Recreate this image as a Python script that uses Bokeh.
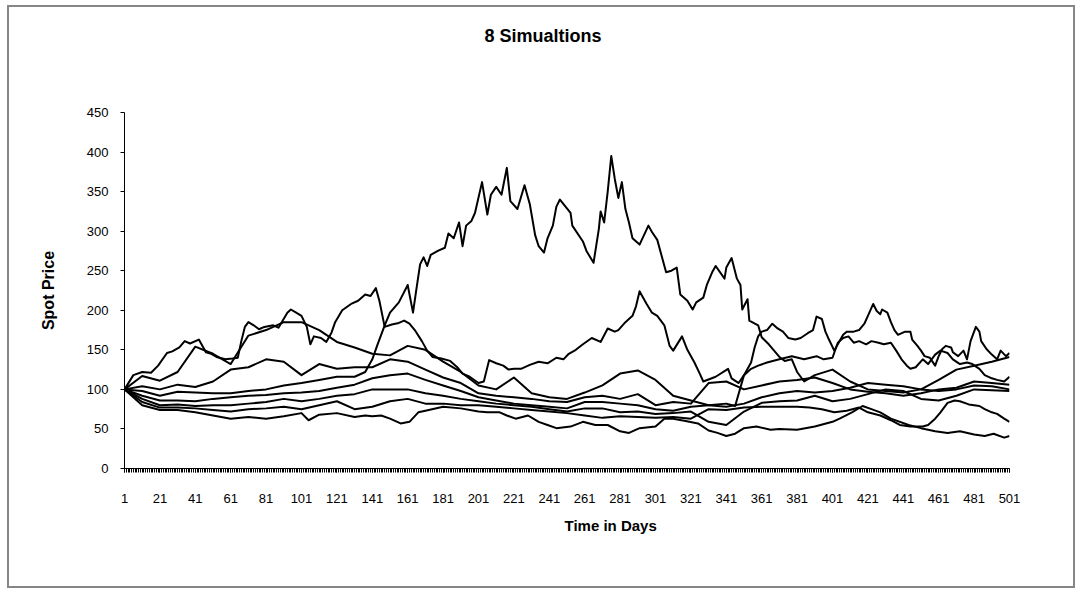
from bokeh.plotting import figure
from bokeh.models import Range1d, FixedTicker, Title
from bokeh.embed import file_html
from bokeh.resources import INLINE

# ---------------- data ----------------
grid_days = list(range(1, 502, 10))

# simulation 1: the path that climbs to ~395, read at its turning points (day, price)
sim1_points = [
    (1, 100), (11, 98), (21, 92), (31, 97), (41, 96), (51, 95), (61, 95), (71, 98), (81, 100), (91, 105),
    (101, 108), (111, 112), (121, 116), (131, 116), (137, 122), (141, 138), (144, 157), (148, 181), (151, 197), (156, 210),
    (161, 232), (164, 197), (166, 228), (168, 258), (170, 267), (172, 256), (174, 270), (178, 275), (182, 279), (184, 297),
    (187, 291), (190, 311), (192, 281), (194, 307), (197, 313), (199, 323), (203, 362), (206, 321), (208, 346), (211, 356),
    (214, 346), (217, 380), (219, 338), (223, 328), (227, 358), (230, 334), (233, 295), (235, 281), (238, 273), (240, 291),
    (243, 307), (245, 331), (247, 340), (253, 323), (254, 307), (260, 287), (262, 275), (266, 260), (269, 303), (270, 325),
    (272, 311), (274, 350), (276, 395), (278, 366), (280, 342), (282, 362), (284, 328), (286, 311), (288, 291), (292, 283),
    (297, 307), (299, 299), (302, 289), (307, 248), (310, 250), (313, 254), (315, 220), (319, 212), (322, 201), (324, 210),
    (328, 216), (330, 232), (333, 248), (335, 256), (340, 240), (341, 254), (344, 266), (347, 240), (349, 232), (350, 201),
    (353, 214), (354, 187), (359, 181), (361, 166), (365, 157), (368, 149), (371, 141), (374, 136), (378, 138), (381, 122),
    (385, 110), (391, 118), (401, 125), (411, 110), (421, 100), (431, 98), (441, 96), (451, 100), (461, 112), (471, 125),
    (481, 130), (491, 135), (501, 141)]

# simulation 2: early high path, later the one peaking ~225 near day 292 (day, price)
sim2_points = [
    (1, 100), (6, 118), (11, 122), (16, 121), (20, 130), (25, 146), (28, 148), (32, 153), (35, 161), (38, 158),
    (43, 163), (47, 147), (50, 145), (53, 141), (58, 138), (62, 139), (65, 140), (67, 161), (69, 179), (71, 185),
    (74, 181), (77, 176), (80, 179), (85, 181), (88, 178), (93, 197), (95, 201), (98, 197), (101, 193), (104, 179),
    (106, 157), (108, 167), (112, 165), (115, 160), (118, 172), (120, 185), (124, 200), (129, 208), (133, 212), (137, 220),
    (140, 218), (143, 228), (145, 212), (148, 179), (152, 182), (156, 184), (159, 187), (162, 183), (165, 175), (169, 161),
    (172, 149), (175, 141), (180, 139), (185, 136), (189, 128), (192, 120), (196, 116), (201, 108), (204, 110), (207, 137),
    (211, 133), (215, 130), (218, 125), (221, 126), (225, 126), (230, 131), (235, 135), (240, 133), (245, 140), (249, 138),
    (252, 145), (256, 150), (260, 157), (265, 165), (270, 160), (274, 177), (278, 173), (280, 175), (284, 185), (288, 193),
    (290, 205), (292, 224), (293, 220), (296, 208), (299, 197), (302, 193), (306, 181), (309, 155), (311, 149), (316, 167),
    (319, 150), (323, 134), (326, 120), (328, 110), (335, 116), (342, 126), (344, 114), (348, 108), (351, 118), (355, 126),
    (359, 130), (364, 134), (371, 138), (378, 142), (385, 138), (392, 142), (396, 138), (401, 140), (404, 159), (407, 165),
    (410, 167), (413, 159), (416, 161), (420, 157), (423, 161), (427, 159), (430, 157), (434, 159), (437, 149), (440, 138),
    (443, 130), (445, 126), (448, 128), (452, 138), (455, 132), (459, 144), (462, 149), (466, 146), (469, 138), (473, 132),
    (477, 134), (480, 132), (484, 126), (487, 118), (491, 114), (494, 112), (498, 110), (501, 116)]

# simulation 5: low path that jumps up near day 355 and peaks ~208 near day 424 (day, price)
sim5_points = [
    (1, 100), (11, 92), (21, 86), (31, 86), (41, 85), (51, 88), (61, 90), (71, 92), (81, 93), (91, 95),
    (101, 96), (111, 98), (121, 102), (131, 106), (141, 114), (151, 118), (161, 120), (171, 112), (181, 105), (191, 98),
    (201, 90), (211, 86), (221, 82), (231, 80), (241, 78), (251, 76), (261, 84), (271, 84), (281, 82), (291, 80),
    (301, 75), (311, 73), (321, 78), (331, 80), (341, 82), (346, 79), (351, 118), (355, 134), (357, 153), (359, 167),
    (361, 173), (364, 175), (367, 183), (370, 177), (373, 173), (376, 165), (380, 163), (383, 165), (387, 171), (390, 175),
    (392, 192), (395, 189), (397, 173), (399, 163), (402, 149), (404, 157), (407, 169), (409, 173), (413, 173), (416, 175),
    (419, 183), (421, 193), (424, 208), (426, 199), (428, 195), (429, 201), (432, 197), (434, 185), (436, 175), (438, 169),
    (442, 173), (445, 173), (446, 163), (449, 155), (451, 149), (453, 142), (456, 140), (459, 130), (461, 142), (463, 151),
    (465, 155), (468, 153), (469, 147), (472, 142), (475, 149), (477, 138), (479, 161), (482, 179), (484, 173), (485, 161),
    (488, 151), (491, 144), (494, 138), (496, 149), (499, 142), (501, 146)]

# simulation 7: a low path that rises to ~85 near day 470 (day, price)
sim7_points = [
    (1, 100), (11, 84), (21, 77), (31, 77), (41, 76), (51, 74), (61, 72), (71, 75), (81, 76), (91, 78),
    (101, 75), (111, 80), (121, 85), (131, 75), (141, 78), (151, 85), (161, 88), (171, 82), (181, 82), (191, 80),
    (201, 80), (211, 78), (221, 76), (231, 74), (241, 72), (251, 70), (261, 67), (271, 64), (281, 66), (291, 65),
    (301, 64), (311, 65), (321, 63), (331, 75), (341, 74), (351, 77), (361, 78), (371, 78), (381, 78), (388, 77),
    (395, 75), (402, 71), (409, 73), (416, 77), (421, 71), (428, 67), (434, 61), (439, 55), (445, 53), (452, 53),
    (455, 55), (459, 63), (462, 71), (466, 83), (470, 86), (473, 85), (478, 81), (484, 79), (487, 75), (491, 71),
    (494, 69), (498, 63), (501, 59)]

# simulation 8: the lowest path, ending near 40 (day, price)
sim8_points = [
    (1, 100), (11, 80), (21, 74), (31, 74), (41, 71), (51, 67), (61, 63), (71, 65), (81, 63), (91, 66),
    (101, 70), (105, 61), (111, 68), (121, 70), (131, 65), (137, 67), (141, 66), (146, 67), (151, 63), (157, 57),
    (162, 59), (167, 71), (171, 73), (181, 78), (191, 76), (201, 72), (206, 71), (213, 71), (217, 67), (222, 63),
    (229, 67), (235, 59), (240, 55), (245, 51), (253, 53), (260, 59), (267, 55), (274, 55), (281, 47), (286, 45),
    (292, 51), (301, 53), (306, 63), (311, 63), (318, 60), (325, 57), (331, 48), (336, 45), (341, 41), (346, 44),
    (351, 51), (358, 53), (366, 49), (371, 50), (381, 49), (391, 53), (401, 59), (405, 63), (412, 71), (418, 79),
    (423, 75), (428, 71), (434, 63), (444, 55), (451, 51), (459, 47), (466, 45), (473, 47), (481, 43), (487, 41),
    (492, 44), (498, 39), (501, 41)]

# the remaining paths, read every 10 days
sim3 = [100, 117, 111, 122, 154, 145, 132, 168, 175, 185,
        185, 175, 160, 153, 145, 143, 155, 150, 135, 122,
        105, 100, 115, 95, 90, 88, 96, 105, 120, 124,
        112, 92, 86, 80, 78, 82, 90, 95, 98, 96,
        98, 102, 108, 106, 104, 100, 98, 100, 105, 104, 100]
sim4 = [100, 104, 100, 106, 103, 110, 125, 128, 138, 135,
        118, 132, 126, 128, 128, 138, 135, 125, 115, 108,
        95, 92, 90, 88, 85, 84, 90, 92, 88, 94,
        80, 84, 82, 108, 110, 100, 105, 110, 112, 115,
        108, 100, 97, 95, 92, 95, 100, 102, 110, 108, 106]
sim6 = [100, 88, 80, 81, 79, 80, 80, 82, 84, 88,
        85, 88, 92, 94, 100, 100, 100, 95, 92, 88,
        85, 82, 80, 78, 75, 72, 76, 76, 71, 72,
        69, 70, 72, 59, 55, 72, 83, 85, 86, 92,
        85, 88, 94, 100, 98, 88, 86, 92, 100, 99, 98]

y_ticks = list(range(0, 451, 50))
x_label_days = list(range(1, 502, 20))

title_text = "8 Simualtions"
x_title = "Time in Days"
y_title = "Spot Price"

# ---------------- layout (pixels inside the canvas) ----------------
FONT = "Liberation Sans"
CANVAS_W, CANVAS_H = 1068, 583
LEFT, RIGHT, TOP, BOTTOM = 115, 68, 105, 122

p = figure(width=CANVAS_W, height=CANVAS_H, output_backend="svg", toolbar_location=None,
           x_range=Range1d(1, 501), y_range=Range1d(0, 450),
           min_border_left=LEFT, min_border_right=RIGHT,
           min_border_top=TOP, min_border_bottom=BOTTOM,
           background_fill_color="white", border_fill_color="white")
p.title_location = None
p.styles = {"margin-left": "7px", "margin-top": "5px", "border": "2px solid #868686"}
p.outline_line_color = None
p.xgrid.visible = False
p.ygrid.visible = False


def split(points):
    return [d for d, _ in points], [v for _, v in points]


series = [split(sim1_points), split(sim2_points), (grid_days, sim3), (grid_days, sim4),
          split(sim5_points), (grid_days, sim6), split(sim7_points), split(sim8_points)]
for xs, ys in series:
    p.line(xs, ys, line_color="black", line_width=2, line_join="round")

# above: an empty spacer next to the frame, then the chart title further up
p.add_layout(Title(text=" ", text_font_size="1px", standoff=64), "above")
p.add_layout(Title(text=title_text, text_font=FONT, text_font_size="18px",
                   text_font_style="bold", text_color="black",
                   align="left", offset=360, standoff=0), "above")

# below the x axis: its title, slightly right of centre as in the reference
p.add_layout(Title(text=x_title, text_font=FONT, text_font_size="15px",
                   text_font_style="bold", text_color="black",
                   align="left", offset=440, standoff=18), "below")

# x axis
xa = p.xaxis[0]
xa.ticker = FixedTicker(ticks=x_label_days, minor_ticks=list(range(1, 502)))
xa.major_label_text_font = FONT
xa.major_label_text_font_size = "13px"
xa.major_label_text_color = "black"
xa.major_label_standoff = 21
xa.axis_line_color = "black"
xa.major_tick_line_color = "black"
xa.major_tick_in = 0
xa.major_tick_out = 4
xa.minor_tick_line_color = "black"
xa.minor_tick_in = 0
xa.minor_tick_out = 4

# y axis
ya = p.yaxis[0]
ya.ticker = FixedTicker(ticks=y_ticks)
ya.axis_label = y_title
ya.axis_label_text_font = FONT
ya.axis_label_text_font_size = "16px"
ya.axis_label_text_font_style = "bold"
ya.axis_label_text_color = "black"
ya.axis_label_standoff = 27
ya.major_label_text_font = FONT
ya.major_label_text_font_size = "13px"
ya.major_label_text_color = "black"
ya.major_label_standoff = 12
ya.axis_line_color = "black"
ya.major_tick_line_color = "black"
ya.major_tick_in = 0
ya.major_tick_out = 4
ya.minor_tick_line_color = None

open("out.html", "w").write(file_html(p, INLINE))
